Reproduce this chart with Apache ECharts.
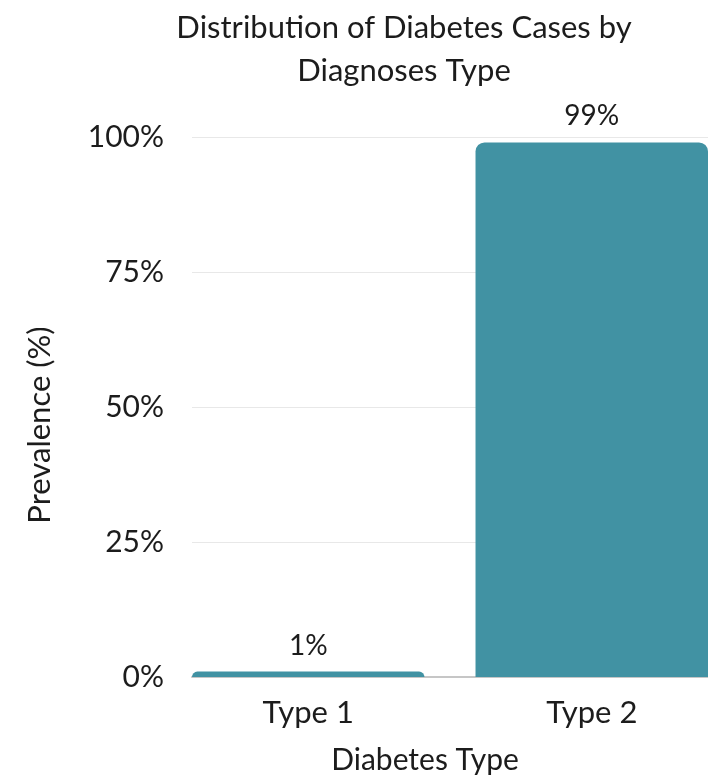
<!DOCTYPE html>
<html>
<head>
<meta charset="utf-8">
<title>Distribution of Diabetes Cases by Diagnoses Type</title>
<script src="https://cdn.jsdelivr.net/npm/echarts@6/dist/echarts.min.js"></script>
<style>
  html, body { margin: 0; padding: 0; background: #ffffff; }
  #chart { width: 708px; height: 781px; }
</style>
</head>
<body>
<div id="chart"></div>
<script>
// Diabetes type categories and their share of diagnosed cases (%)
const categories = ['Type 1', 'Type 2'];
const prevalence = [1, 99];
const yTickValues = [0, 25, 50, 75, 100];

const FONT = 'Lato, "Noto Sans", sans-serif';
const INK = '#1c1c1c';
const BAR = '#4192a3';

const chart = echarts.init(document.getElementById('chart'), null, { renderer: 'canvas' });

chart.setOption({
  animation: false,
  backgroundColor: '#ffffff',
  textStyle: { fontFamily: FONT, color: INK },
  title: {
    text: 'Distribution of Diabetes Cases by\nDiagnoses Type',
    left: 399,
    top: 1,
    textAlign: 'center',
    textStyle: { fontFamily: FONT, fontWeight: 'normal', fontSize: 31, lineHeight: 43, color: INK }
  },
  grid: { left: 192, right: 0, top: 137, bottom: 104, containLabel: false },
  xAxis: {
    type: 'value',
    // x positions are category indices; the range stops at the outer bar edges
    min: -0.41,
    max: 1.41,
    splitLine: { show: false },
    axisTick: { show: false },
    axisLine: { show: true, lineStyle: { color: '#c6c6c6', width: 2 } },
    axisLabel: {
      customValues: categories.map((c, i) => i),
      formatter: v => categories[Math.round(v)] || '',
      fontFamily: FONT, fontSize: 31, color: INK, margin: 20
    }
  },
  yAxis: {
    type: 'value',
    min: yTickValues[0],
    max: yTickValues[yTickValues.length - 1],
    interval: 25,
    axisLine: { show: false },
    axisTick: { show: false },
    splitLine: { lineStyle: { color: '#e8e8e8', width: 1 } },
    axisLabel: {
      formatter: '{value}%',
      fontFamily: FONT, fontSize: 30, color: INK, margin: 28
    }
  },
  graphic: [
    {
      type: 'text',
      x: 40, y: 425,
      rotation: Math.PI / 2,
      style: { text: 'Prevalence (%)', font: '31px ' + FONT, fill: INK, textAlign: 'center', textVerticalAlign: 'middle' }
    },
    {
      type: 'text',
      x: 425, y: 760,
      style: { text: 'Diabetes Type', font: '30px ' + FONT, fill: INK, textAlign: 'center', textVerticalAlign: 'middle' }
    }
  ],
  series: [{
    type: 'bar',
    data: prevalence.map((v, i) => [i, v]),
    barWidth: '82%',
    itemStyle: { color: BAR, borderRadius: [9, 9, 0, 0] },
    label: {
      show: true,
      position: 'top',
      distance: 12,
      formatter: p => p.value[1] + '%',
      fontFamily: FONT, fontSize: 28, color: INK
    }
  }]
});
</script>
</body>
</html>
